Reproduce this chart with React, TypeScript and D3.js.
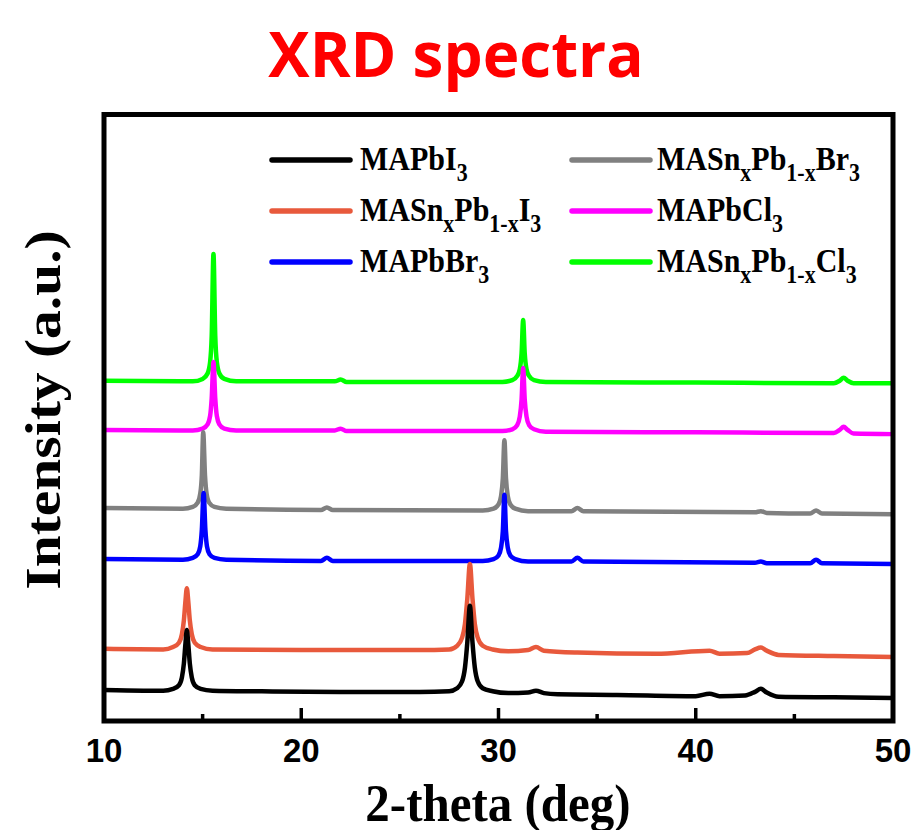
import React from "react";
import * as d3 from "d3";

const W = 913;
const H = 830;

const X_DOMAIN = [10, 50];
const Y_DOMAIN = [0, 100];
const MAJOR_TICKS = [10, 20, 30, 40, 50];
const MINOR_TICKS = [15, 25, 35, 45];

const SERIES_COLORS = ["#000000", "#E8593C", "#0000FF", "#808080", "#FF00FF", "#00FF00"];

const LEGEND_PARTS: [string, boolean][][] = [
  [["MAPbI", false], ["3", true]],
  [["MASn", false], ["x", true], ["Pb", false], ["1-x", true], ["I", false], ["3", true]],
  [["MAPbBr", false], ["3", true]],
  [["MASn", false], ["x", true], ["Pb", false], ["1-x", true], ["Br", false], ["3", true]],
  [["MAPbCl", false], ["3", true]],
  [["MASn", false], ["x", true], ["Pb", false], ["1-x", true], ["Cl", false], ["3", true]],
];

const MAPBI3: [number, number][] = [
  [10, 5.1], [12, 5.0], [13.0, 5.0], [13.5, 5.3], [13.8, 5.9], [13.95, 7.2], [14.05, 9.5], [14.13, 12.8],
  [14.2, 15.0], [14.27, 12.8], [14.35, 9.5], [14.45, 7.2], [14.6, 5.9], [14.9, 5.3], [15.5, 5.0], [18, 4.9],
  [22, 4.8], [26, 4.8], [27.5, 4.9], [27.9, 5.4], [28.15, 6.5], [28.3, 8.8], [28.42, 13.0], [28.55, 19.0],
  [28.68, 13.0], [28.8, 8.8], [28.95, 6.5], [29.2, 5.4], [29.7, 4.9], [30.5, 4.6], [31.5, 4.7], [31.9, 5.0],
  [32.3, 4.6], [33, 4.4], [36, 4.3], [40, 4.1], [40.7, 4.5], [41.2, 4.1], [42.5, 4.2], [43.0, 4.8],
  [43.3, 5.3], [43.6, 4.7], [44.2, 4.0], [47, 3.9], [50, 3.8],
];

const MASNPBI3: [number, number][] = [
  [10, 11.9], [13, 11.8], [13.5, 12.2], [13.8, 12.9], [13.95, 14.3], [14.05, 16.6], [14.13, 19.8], [14.2, 21.9],
  [14.27, 19.8], [14.35, 16.6], [14.45, 14.3], [14.6, 12.9], [14.9, 12.2], [15.5, 11.8], [20, 11.7], [26, 11.7],
  [27.5, 11.8], [27.9, 12.4], [28.15, 13.7], [28.3, 16.0], [28.42, 20.2], [28.55, 25.9], [28.68, 20.2], [28.8, 16.0],
  [28.95, 13.7], [29.2, 12.4], [29.7, 11.8], [30.5, 11.5], [31.5, 11.7], [31.9, 12.2], [32.3, 11.6], [34, 11.3],
  [38, 11.1], [40.7, 11.6], [41.2, 11.1], [42.6, 11.2], [43.0, 11.8], [43.3, 12.1], [43.6, 11.6], [44.2, 10.9],
  [47, 10.7], [50, 10.55],
];

const MAPBBR3: [number, number][] = [
  [10, 26.7], [14, 26.6], [14.5, 26.9], [14.75, 27.5], [14.88, 28.8], [14.96, 31.5], [15.05, 37.6], [15.14, 31.5],
  [15.22, 28.8], [15.35, 27.5], [15.6, 26.9], [16.2, 26.6], [21.0, 26.4], [21.3, 26.9], [21.6, 26.4], [29.2, 26.4],
  [29.75, 26.7], [30.0, 27.3], [30.13, 28.6], [30.22, 31.3], [30.3, 37.3], [30.38, 31.3], [30.47, 28.6], [30.6, 27.3],
  [30.85, 26.7], [31.5, 26.3], [33.7, 26.3], [34.0, 26.9], [34.3, 26.3], [43.0, 26.1], [43.3, 26.3], [43.6, 26.0],
  [45.8, 26.0], [46.1, 26.6], [46.4, 26.0], [50, 25.9],
];

const MASNPBBR3: [number, number][] = [
  [10, 35.1], [14, 35.0], [14.5, 35.3], [14.75, 36.0], [14.88, 37.5], [14.96, 40.5], [15.03, 47.6], [15.12, 40.5],
  [15.2, 37.5], [15.33, 36.0], [15.6, 35.3], [16.2, 35.0], [21.0, 34.8], [21.3, 35.2], [21.6, 34.8], [29.2, 34.7],
  [29.75, 35.0], [30.0, 35.7], [30.13, 37.1], [30.22, 40.0], [30.3, 46.3], [30.38, 40.0], [30.47, 37.1], [30.6, 35.7],
  [30.85, 35.0], [31.5, 34.6], [33.7, 34.6], [34.0, 35.1], [34.3, 34.6], [43.0, 34.4], [43.3, 34.6], [43.6, 34.3],
  [45.8, 34.2], [46.1, 34.7], [46.4, 34.2], [50, 34.1],
];

const MAPBCL3: [number, number][] = [
  [10, 48.0], [14.5, 47.9], [15.0, 48.2], [15.25, 48.9], [15.38, 50.3], [15.46, 53.2], [15.55, 59.2], [15.64, 53.2],
  [15.72, 50.3], [15.85, 48.9], [16.1, 48.2], [16.7, 47.9], [21.7, 47.9], [22.0, 48.2], [22.3, 47.8], [30.2, 47.8],
  [30.7, 48.1], [30.95, 48.8], [31.08, 50.2], [31.17, 53.0], [31.25, 58.2], [31.33, 53.0], [31.42, 50.2], [31.55, 48.8],
  [31.8, 48.1], [32.4, 47.7], [40, 47.6], [47.0, 47.5], [47.3, 48.0], [47.5, 48.5], [47.7, 48.0], [48.0, 47.4],
  [50, 47.3],
];

const MASNPBCL3: [number, number][] = [
  [10, 56.1], [14.5, 56.0], [15.0, 56.4], [15.25, 57.3], [15.38, 59.2], [15.46, 63.5], [15.55, 77.0], [15.64, 63.5],
  [15.72, 59.2], [15.85, 57.3], [16.1, 56.4], [16.7, 56.0], [21.7, 56.0], [22.0, 56.3], [22.3, 55.9], [30.2, 55.9],
  [30.7, 56.2], [30.95, 56.9], [31.08, 58.0], [31.17, 60.6], [31.25, 66.1], [31.33, 60.6], [31.42, 58.0], [31.55, 56.9],
  [31.8, 56.2], [32.4, 55.9], [40, 55.8], [47.0, 55.7], [47.3, 56.1], [47.5, 56.6], [47.7, 56.1], [48.0, 55.7],
  [50, 55.7],
];

const SERIES = [MAPBI3, MASNPBI3, MAPBBR3, MASNPBBR3, MAPBCL3, MASNPBCL3];

const PLOT = { left: 104, right: 893, top: 114.5, bottom: 721 };

export default function App() {
  const x = d3.scaleLinear().domain(X_DOMAIN).range([PLOT.left, PLOT.right]);
  const y = d3.scaleLinear().domain(Y_DOMAIN).range([PLOT.bottom, PLOT.top]);
  const line = d3
    .line<[number, number]>()
    .x((d) => x(d[0]))
    .y((d) => y(d[1]))
    .curve(d3.curveMonotoneX);

  const legendCols = [
    { lineX1: 272, lineX2: 350, textX: 360 },
    { lineX1: 572, lineX2: 650, textX: 657 },
  ];
  const legendRowY = [160, 211, 262];

  const serif = "'Liberation Serif', 'Times New Roman', serif";
  const sans = "'Liberation Sans', Arial, sans-serif";

  return (
    <svg width={W} height={H} style={{ display: "block", position: "absolute", left: 0, top: 0 }}>
      <rect x={0} y={0} width={W} height={H} fill="#ffffff" />
      <text
        x={456}
        y={77}
        textAnchor="middle"
        fontFamily="'Open Sans', sans-serif"
        fontWeight={700}
        fontSize={62}
        fill="#FF0000"
      >
        XRD spectra
      </text>

      {SERIES.map((s, i) => i)
        .reverse()
        .map((i) => (
          <path
            key={i}
            d={line(SERIES[i]) || ""}
            fill="none"
            stroke={SERIES_COLORS[i]}
            strokeWidth={4.5}
            strokeLinejoin="round"
          />
        ))}

      {LEGEND_PARTS.map((parts, i) => {
        const col = legendCols[Math.floor(i / 3)];
        const cy = legendRowY[i % 3];
        return (
          <g key={i}>
            <line
              x1={col.lineX1}
              x2={col.lineX2}
              y1={cy}
              y2={cy}
              stroke={SERIES_COLORS[i]}
              strokeWidth={5.5}
              strokeLinecap="round"
            />
            <text
              transform={`translate(${col.textX}, ${cy + 10}) scale(1, 1.12)`}
              fontFamily={serif}
              fontWeight={700}
              fontSize={30}
              fill="#000"
            >
              {parts.map(([t, sub], k) => (
                <tspan key={k} fontSize={sub ? 22 : 30} dy={sub ? 10 : k === 0 ? 0 : -10}>
                  {t}
                </tspan>
              ))}
            </text>
          </g>
        );
      })}

      <rect
        x={PLOT.left}
        y={PLOT.top}
        width={PLOT.right - PLOT.left}
        height={PLOT.bottom - PLOT.top}
        fill="none"
        stroke="#000"
        strokeWidth={5}
      />

      {MAJOR_TICKS.map((t) => (
        <g key={"M" + t}>
          <line x1={x(t)} x2={x(t)} y1={PLOT.bottom} y2={PLOT.bottom - 13} stroke="#000" strokeWidth={3.5} />
          <text
            x={x(t)}
            y={762}
            textAnchor="middle"
            fontFamily={sans}
            fontWeight={700}
            fontSize={33}
            fill="#000"
          >
            {t}
          </text>
        </g>
      ))}
      {MINOR_TICKS.map((t) => (
        <line key={"m" + t} x1={x(t)} x2={x(t)} y1={PLOT.bottom} y2={PLOT.bottom - 7} stroke="#000" strokeWidth={3.5} />
      ))}

      <text
        transform="translate(498, 821) scale(1, 1.08)"
        textAnchor="middle"
        fontFamily={serif}
        fontWeight={700}
        fontSize={49}
        fill="#000"
      >
        2-theta (deg)
      </text>
      <text
        transform={`translate(60, 410) rotate(-90) scale(1.15, 1)`}
        textAnchor="middle"
        fontFamily={serif}
        fontWeight={700}
        fontSize={50}
        fill="#000"
      >
        Intensity (a.u.)
      </text>
    </svg>
  );
}
